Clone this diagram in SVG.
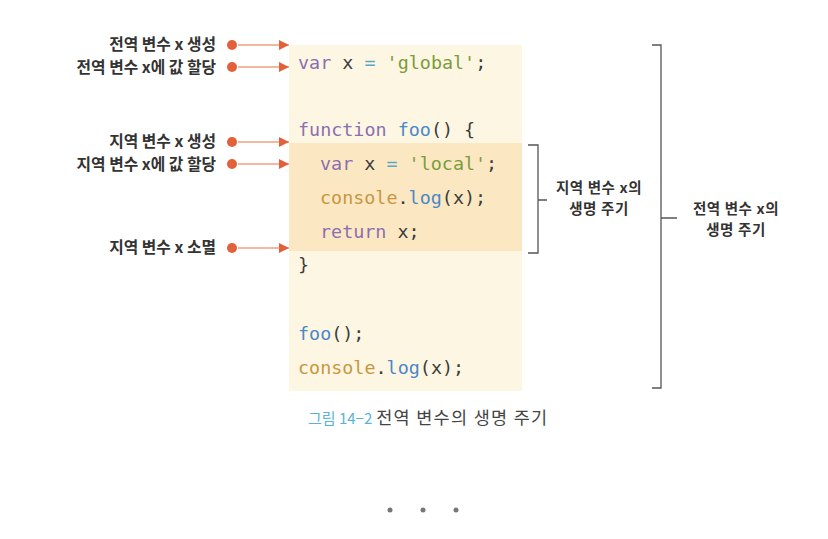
<svg xmlns="http://www.w3.org/2000/svg" width="828" height="539" viewBox="0 0 828 539">
<style>
.lbl{font-family:"Noto Sans CJK KR","Noto Sans",sans-serif;font-size:15.8px;font-weight:700;fill:#333;text-anchor:end}
.note{font-family:"Noto Sans CJK KR","Noto Sans",sans-serif;font-size:14.5px;font-weight:700;fill:#333;text-anchor:middle;letter-spacing:0.6px}
.code{font-family:"DejaVu Sans Mono","Liberation Mono",monospace;font-size:18.4px;fill:#3c3c3c}
.kw{fill:#8b6fb0}.str{fill:#7c9c3c}.fn{fill:#4a88c8}.obj{fill:#c99640}.op{fill:#5aa8c8}
.dot{fill:#e2603a}
.ln{stroke:#f0a080;stroke-width:1.3;fill:none}
.br{stroke:#555;stroke-width:1.3;fill:none}
</style>
<defs>
<marker id="ah" viewBox="0 0 10 10" refX="10" refY="5" markerWidth="10" markerHeight="10" markerUnits="userSpaceOnUse" orient="auto">
<path d="M0,0 L10,5 L0,10 Z" fill="#e2603a"/>
</marker>
</defs>
<rect width="828" height="539" fill="#fff"/>
<g id="code-block">
<rect x="289" y="45" width="233" height="346" fill="#fdf6e3"/>
<rect x="289" y="143" width="233" height="108" fill="#fbe8c2"/>
<text class="code" x="298" y="69"><tspan class="kw">var</tspan> x <tspan class="op">=</tspan> <tspan class="str">'global'</tspan>;</text>
<text class="code" x="298" y="136"><tspan class="kw">function</tspan> <tspan class="fn">foo</tspan>() {</text>
<text class="code" x="320" y="170"><tspan class="kw">var</tspan> x <tspan class="op">=</tspan> <tspan class="str">'local'</tspan>;</text>
<text class="code" x="320" y="204"><tspan class="obj">console</tspan>.<tspan class="fn">log</tspan>(x);</text>
<text class="code" x="320" y="238"><tspan class="kw">return</tspan> x;</text>
<text class="code" x="298" y="271">}</text>
<text class="code" x="298" y="340"><tspan class="fn">foo</tspan>();</text>
<text class="code" x="298" y="374"><tspan class="obj">console</tspan>.<tspan class="fn">log</tspan>(x);</text>
</g>
<g id="label-global-create"><text class="lbl" x="216" y="50">전역 변수 x 생성</text><circle class="dot" cx="232" cy="45" r="5"/></g>
<g id="label-global-assign"><text class="lbl" x="216" y="73">전역 변수 x에 값 할당</text><circle class="dot" cx="232" cy="67" r="5"/></g>
<g id="label-local-create"><text class="lbl" x="216" y="147">지역 변수 x 생성</text><circle class="dot" cx="232" cy="142" r="5"/></g>
<g id="label-local-assign"><text class="lbl" x="216" y="170">지역 변수 x에 값 할당</text><circle class="dot" cx="232" cy="164" r="5"/></g>
<g id="label-local-destroy"><text class="lbl" x="216" y="253">지역 변수 x 소멸</text><circle class="dot" cx="232" cy="248" r="5"/></g>
<g id="connectors">
<line class="ln" x1="238" y1="45" x2="289" y2="45" marker-end="url(#ah)"/>
<line class="ln" x1="238" y1="67" x2="289" y2="67" marker-end="url(#ah)"/>
<line class="ln" x1="238" y1="142" x2="289" y2="142" marker-end="url(#ah)"/>
<line class="ln" x1="238" y1="164" x2="289" y2="164" marker-end="url(#ah)"/>
<line class="ln" x1="238" y1="248" x2="289" y2="248" marker-end="url(#ah)"/>
</g>
<g id="local-lifetime">
<path class="br" d="M528,145 L538,145 L538,200 L547,200 M538,200 L538,253 L528,253"/>
<text class="note" x="599" y="193">지역 변수 x의</text>
<text class="note" x="599" y="214">생명 주기</text>
</g>
<g id="global-lifetime">
<path class="br" d="M652,45 L661,45 L661,218 L677,218 M661,218 L661,388 L652,388"/>
<text class="note" x="736" y="214">전역 변수 x의</text>
<text class="note" x="736" y="235">생명 주기</text>
</g>
<g id="caption">
<text x="308" y="424" style="font-family:'Noto Sans CJK KR','Noto Sans',sans-serif;font-size:17.5px;fill:#444"><tspan fill="#5ab2dc" style="font-size:15px">그림 14−2</tspan> <tspan style="letter-spacing:1.3px">전역 변수의 생명 주기</tspan></text>
</g>
<g id="ellipsis" fill="#777">
<circle cx="390" cy="510" r="2.5"/><circle cx="423" cy="510" r="2.5"/><circle cx="456" cy="510" r="2.5"/>
</g>
</svg>
